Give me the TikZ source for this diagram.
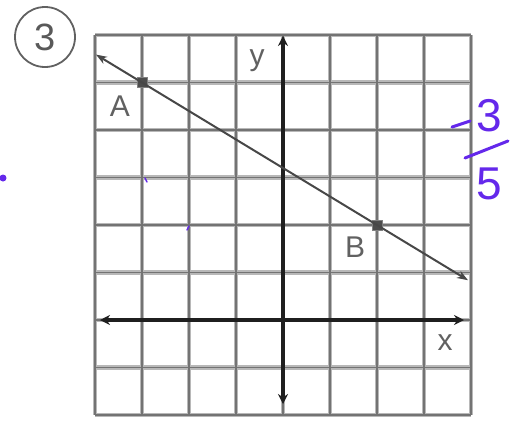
\documentclass[tikz,border=0pt]{standalone}
\usepackage{fontspec}
\setmainfont{Liberation Sans}
\usetikzlibrary{arrows.meta}
\definecolor{pen}{RGB}{100,40,235}
\tikzset{
  gridwide/.style={draw=black!28, line width=4.5pt},
  gridcore/.style={draw=black!55, line width=1.1pt},
  axisline/.style={draw=black!88, line width=4pt, {Stealth[length=10pt,width=10pt]}-{Stealth[length=10pt,width=10pt]}},
  slopeline/.style={draw=black!72, line width=2pt, {Stealth[length=11pt,width=8pt]}-{Stealth[length=11pt,width=8pt]}},
  ptmark/.style={fill=black!70, minimum size=10pt, inner sep=0pt, draw=black!50},
  lbl/.style={text=black!62, font=\fontsize{30}{30}\selectfont},
  penline/.style={draw=pen, line width=3pt, line cap=round},
  pentext/.style={text=pen, font=\fontsize{46}{46}\selectfont}
}
\begin{document}
\begin{tikzpicture}[x=1pt,y=-1pt]
\useasboundingbox (0,0) rectangle (513,424);
% grid
\foreach \i in {0,...,8}{
  \pgfmathsetmacro{\gx}{95+47*\i}
  \pgfmathsetmacro{\gy}{35+47.5*\i}
  \draw[gridwide] (\gx,35) -- (\gx,415);
  \draw[gridwide] (95,\gy) -- (471,\gy);
}
\foreach \i in {0,...,8}{
  \pgfmathsetmacro{\gx}{95+47*\i}
  \pgfmathsetmacro{\gy}{35+47.5*\i}
  \draw[gridcore] (\gx,35) -- (\gx,415);
  \draw[gridcore] (95,\gy) -- (471,\gy);
}
% axes
\coordinate (xl) at (100,320);
\coordinate (xr) at (464,320);
\coordinate (yt) at (283,36);
\coordinate (yb) at (283,404);
\draw[axisline] (xl) -- (xr);
\draw[axisline] (yt) -- (yb);
% slope line through A and B
\node[ptmark] (A) at (142,82.5) {};
\node[ptmark] (B) at (377,225) {};
\coordinate (lend) at (96,54.6);
\coordinate (rend) at (468,280.2);
\draw[slopeline] (lend) -- (rend);
% labels
\node[lbl] (la) at (120,106) {A};
\node[lbl] (lb) at (355,247) {B};
\node[lbl] (ly) at (257,61) {y};
\node[lbl] (lx) at (445,343) {x};
% circled number
\node[draw=black!62, line width=1.8pt, circle, minimum size=60pt, inner sep=0pt, text=black!65, font=\fontsize{38}{38}\selectfont] (num) at (45,37) {3};
% handwritten slope
\draw[penline] (452,127) -- (470,121);
\node[pentext] (n3) at (489,116) {3};
\draw[penline] (465,158) -- (508,141);
\node[pentext] (n5) at (489,184) {5};
% stray pen marks
\fill[pen] (3,178) circle (3.5pt);
\draw[penline, line width=1.5pt] (145,178) -- (147,182);
\draw[penline, line width=1.5pt] (187,230) -- (189,226);
\end{tikzpicture}
\end{document}
